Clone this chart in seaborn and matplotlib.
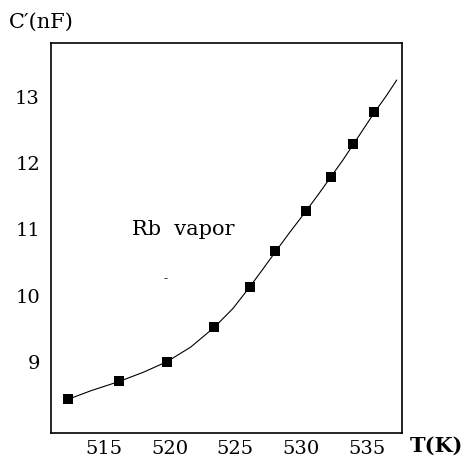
import pandas as pd
import seaborn as sns
import matplotlib.pyplot as plt

temperature = [512.25, 516.15, 519.8, 523.4, 526.1, 528.05, 530.4, 532.3, 534.0, 535.6]
capacitance = [8.43, 8.70, 9.00, 9.52, 10.13, 10.67, 11.28, 11.80, 12.29, 12.77]

# fitted curve
curve_t = [512.25, 514.0, 516.15, 518.0, 519.8, 521.6, 523.4, 524.8, 526.1, 527.1,
           528.05, 529.2, 530.4, 531.4, 532.3, 533.2, 534.0, 534.8, 535.6, 536.5, 537.3]
curve_c = [8.43, 8.56, 8.70, 8.84, 9.00, 9.22, 9.52, 9.80, 10.13, 10.40,
           10.66, 10.97, 11.28, 11.55, 11.80, 12.05, 12.29, 12.53, 12.77, 13.02, 13.26]

pts = pd.DataFrame({"T": temperature, "C": capacitance})
fit = pd.DataFrame({"T": curve_t, "C": curve_c})

sns.set_style("white")
plt.rcParams["font.family"] = ["DejaVu Serif"]
plt.rcParams["text.color"] = "black"
plt.rcParams["xtick.color"] = "black"
plt.rcParams["ytick.color"] = "black"

fig = plt.figure(figsize=(4.66, 4.59), dpi=100)
ax = fig.add_axes([51 / 466, 1 - 433 / 459, 351 / 466, 390 / 459])

sns.lineplot(data=fit, x="T", y="C", ax=ax, color="black", lw=0.8, sort=False)
sns.scatterplot(data=pts, x="T", y="C", ax=ax, marker="s", s=45, color="black",
                edgecolor="black", linewidth=0, zorder=3)

ax.set_xlim(510.95, 537.7)
ax.set_ylim(7.92, 13.82)
ax.set_xticks([515, 520, 525, 530, 535])
ax.set_yticks([9, 10, 11, 12, 13])
ax.tick_params(direction="in", length=3, width=2, labelsize=14,
               color="black", labelcolor="black")
ax.tick_params(axis="y", pad=8)
ax.tick_params(axis="x", pad=5)
for s in ax.spines.values():
    s.set_color("black")
    s.set_linewidth(1.2)
ax.set_xlabel("")
ax.set_ylabel("")

fig.text(9 / 466, 1 - 22 / 459, "C\u2032(nF)", fontsize=15, va="center", ha="left")
fig.text(410 / 466, 1 - 446 / 459, "T(K)", fontsize=15, fontweight="bold",
         va="center", ha="left")
ax.text(521.0, 11.0, "Rb  vapor", fontsize=15, ha="center", va="center")
ax.text(519.7, 10.25, "-", fontsize=9, ha="center", va="center")

fig.savefig("out.png", dpi=100)
